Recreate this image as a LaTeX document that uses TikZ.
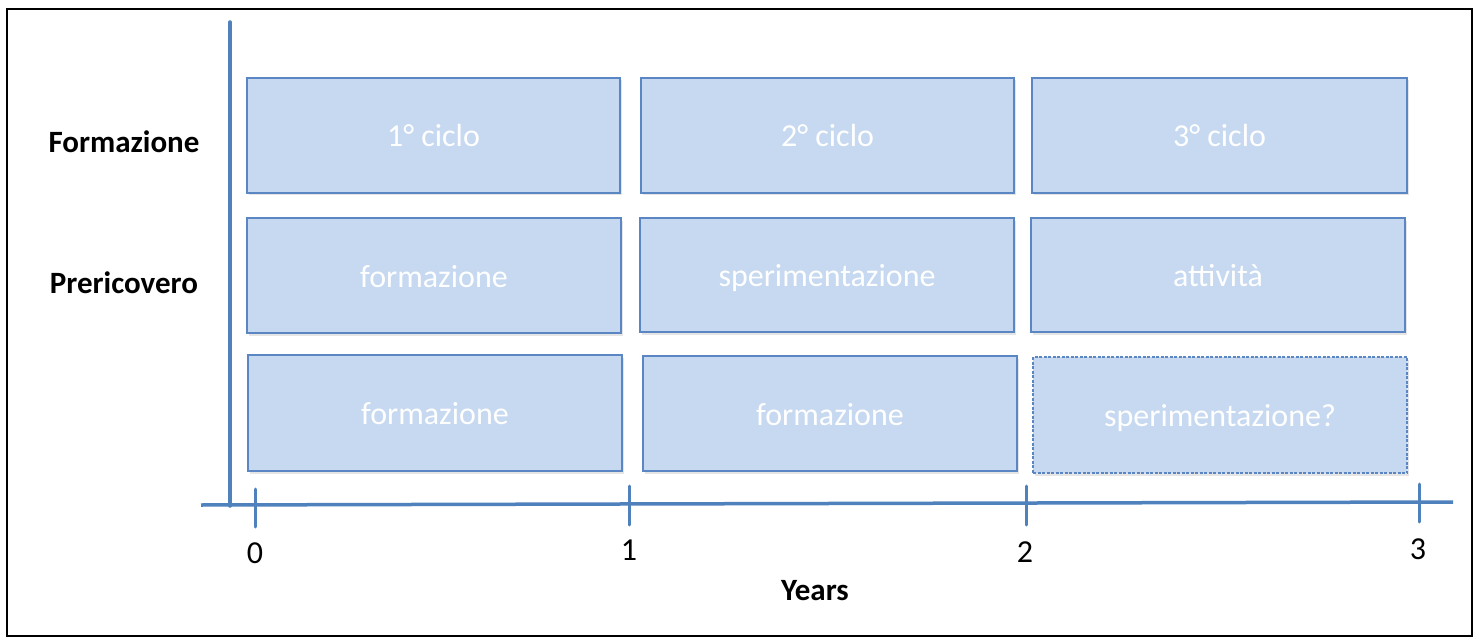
\documentclass[tikz,border=0pt]{standalone}
\usepackage{fontspec}
\setmainfont{Carlito}
\usetikzlibrary{shadows}
\definecolor{boxfill}{RGB}{198,217,240}
\definecolor{boxline}{RGB}{91,134,196}
\definecolor{axis}{RGB}{79,129,189}
\tikzset{
  phase/.style={draw=boxline, line width=1.3pt, fill=boxfill, drop shadow={opacity=0.2, shadow xshift=1.5pt, shadow yshift=-2.5pt},
    text=white, font=\fontsize{32}{38}\selectfont, text height=23pt, text depth=0pt},
  finedash/.style={dash pattern=on 3pt off 1.5pt},
  axisline/.style={draw=axis, line width=3.5pt},
  tickline/.style={draw=axis, line width=3pt, line cap=round},
  rowlabel/.style={font=\fontsize{31}{36}\selectfont\bfseries, text=black},
  ticklabel/.style={font=\fontsize{32}{38}\selectfont, text=black},
}
\begin{document}
\begin{tikzpicture}[x=1pt, y=-1pt]
\useasboundingbox (0,0) rectangle (1477,639);
\fill[white] (0,0) rectangle (1477,639);
\draw[black, line width=2pt] (7,9) rectangle (1472,636);
% boxes
\node[phase, minimum width=373pt, minimum height=115pt] (a1) at (433.5,135.5) {1° ciclo};
\node[phase, minimum width=373pt, minimum height=115pt] (a2) at (827.5,135.5) {2° ciclo};
\node[phase, minimum width=375pt, minimum height=115pt] (a3) at (1219.5,135.5) {3° ciclo};
\node[phase, minimum width=374pt, minimum height=115pt] (b1) at (434,275.5) {formazione};
\node[phase, minimum width=374pt, minimum height=114pt] (b2) at (827,275) {sperimentazione};
\node[phase, minimum width=374pt, minimum height=114pt] (b3) at (1218,275) {attività};
\node[phase, minimum width=374pt, minimum height=116pt] (c1) at (435,413) {formazione};
\node[phase, minimum width=374pt, minimum height=115pt] (c2) at (830,413.5) {formazione};
\node[phase, finedash, minimum width=374pt, minimum height=116pt] (c3) at (1220,415) {sperimentazione?};
% row labels
\node[rowlabel] (lf) at (124,142) {Formazione};
\node[rowlabel] (lp) at (124,283) {Prericovero};
% axes
\coordinate (yt) at (230,22);
\coordinate (yb) at (230,506);
\coordinate (xl) at (201,505);
\coordinate (xr) at (1453,502);
\draw[axisline, line cap=round] (yt) -- (yb);
\draw[axisline] (xl) -- (xr);
% ticks
\coordinate (t0a) at (255,489); \coordinate (t0b) at (255,527);
\coordinate (t1a) at (629,486); \coordinate (t1b) at (629,525);
\coordinate (t2a) at (1026,486); \coordinate (t2b) at (1026,525);
\coordinate (t3a) at (1419,484); \coordinate (t3b) at (1419,522);
\draw[tickline] (t0a) -- (t0b);
\draw[tickline] (t1a) -- (t1b);
\draw[tickline] (t2a) -- (t2b);
\draw[tickline] (t3a) -- (t3b);
\node[ticklabel] (n0) at (255,553) {0};
\node[ticklabel] (n1) at (629,550) {1};
\node[ticklabel] (n2) at (1025,552) {2};
\node[ticklabel] (n3) at (1418,549) {3};
\node[rowlabel] (yrs) at (815,591) {Years};
\end{tikzpicture}
\end{document}
